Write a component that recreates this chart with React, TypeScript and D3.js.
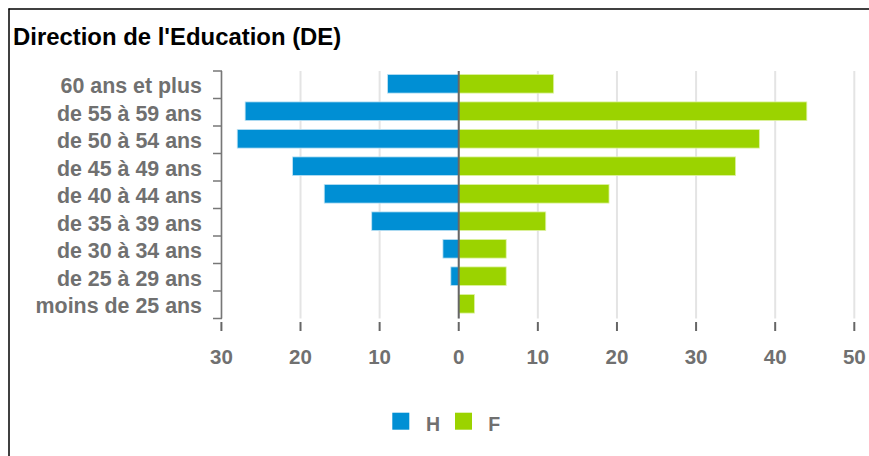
import React from "react";
import * as d3 from "d3";

const categories = [
  "60 ans et plus",
  "de 55 à 59 ans",
  "de 50 à 54 ans",
  "de 45 à 49 ans",
  "de 40 à 44 ans",
  "de 35 à 39 ans",
  "de 30 à 34 ans",
  "de 25 à 29 ans",
  "moins de 25 ans",
];
const hommes = [9, 27, 28, 21, 17, 11, 2, 1, 0];
const femmes = [12, 44, 38, 35, 19, 11, 6, 6, 2];
const xTicks = [-30, -20, -10, 0, 10, 20, 30, 40, 50];
const seriesNames = ["H", "F"];
const title = "Direction de l'Education (DE)";

const BLUE = "#008fd4";
const GREEN = "#9bd300";
const GREY = "#707070";
const FONT = "'Liberation Sans', Arial, Helvetica, sans-serif";

export default function App() {
  const x = d3.scaleLinear().domain([-30, 50]).range([221.4, 854.3]);
  const y = d3.scaleBand<string>().domain(categories).range([71, 318.5]).padding(0);
  const step = y.step();
  const barH = step * 0.68;
  const barOff = 3.4;
  const top = 71;
  const bottom = 318.5;

  return (
    <svg
      width={869}
      height={456}
      style={{ position: "absolute", left: 0, top: 0, fontFamily: FONT }}
    >
      <rect x={0} y={0} width={869} height={456} fill="#fff" />
      {/* frame */}
      <line x1={8.5} y1={9} x2={869} y2={9} stroke="#000" strokeWidth={1.5} />
      <line x1={9} y1={8.5} x2={9} y2={456} stroke="#000" strokeWidth={1.5} />

      <text x={13} y={44.5} fontSize={23.9} fontWeight="bold" fill="#000">
        {title}
      </text>

      {/* grid */}
      {xTicks.map((t) => (
        <line
          key={"g" + t}
          x1={x(t)}
          x2={x(t)}
          y1={top}
          y2={bottom}
          stroke="#e4e4e4"
          strokeWidth={2}
        />
      ))}

      {/* bars */}
      {categories.map((c, i) => (
        <g key={c}>
          {hommes[i] > 0 && (
            <rect
              x={x(-hommes[i])}
              y={(y(c) as number) + barOff}
              width={x(0) - x(-hommes[i])}
              height={barH}
              fill={BLUE}
              stroke="#bfe3f4"
              strokeWidth={0.8}
            />
          )}
          {femmes[i] > 0 && (
            <rect
              x={x(0)}
              y={(y(c) as number) + barOff}
              width={x(femmes[i]) - x(0)}
              height={barH}
              fill={GREEN}
              stroke="#e0f3a8"
              strokeWidth={0.8}
            />
          )}
        </g>
      ))}

      {/* zero line */}
      <line x1={x(0)} x2={x(0)} y1={top} y2={bottom} stroke="#666" strokeWidth={2} />

      {/* category axis */}
      <line x1={221.5} x2={221.5} y1={top} y2={bottom} stroke="#777" strokeWidth={1.5} />
      {categories.map((c) => (
        <line
          key={"t" + c}
          x1={213}
          x2={222}
          y1={(y(c) as number)}
          y2={(y(c) as number)}
          stroke="#777"
          strokeWidth={1.5}
        />
      ))}
      <line x1={213} x2={222} y1={bottom} y2={bottom} stroke="#777" strokeWidth={1.5} />
      {categories.map((c) => (
        <text
          key={"l" + c}
          x={202}
          y={(y(c) as number) + 22.3}
          textAnchor="end"
          fontSize={21.4}
          fontWeight="bold"
          fill={GREY}
        >
          {c}
        </text>
      ))}

      {/* x axis ticks */}
      {xTicks.map((t) => (
        <g key={"xt" + t}>
          <line x1={x(t)} x2={x(t)} y1={322} y2={331} stroke="#666" strokeWidth={2} />
          <text
            x={x(t)}
            y={364}
            textAnchor="middle"
            fontSize={20.5}
            fontWeight="bold"
            fill={GREY}
          >
            {Math.abs(t)}
          </text>
        </g>
      ))}

      {/* legend */}
      <rect x={392.3} y={412.7} width={17} height={17} fill={BLUE} />
      <text x={426} y={430.7} fontSize={19.5} fontWeight="bold" fill={GREY}>
        {seriesNames[0]}
      </text>
      <rect x={455} y={412.7} width={17} height={17} fill={GREEN} />
      <text x={488.3} y={430.7} fontSize={19.5} fontWeight="bold" fill={GREY}>
        {seriesNames[1]}
      </text>
    </svg>
  );
}
